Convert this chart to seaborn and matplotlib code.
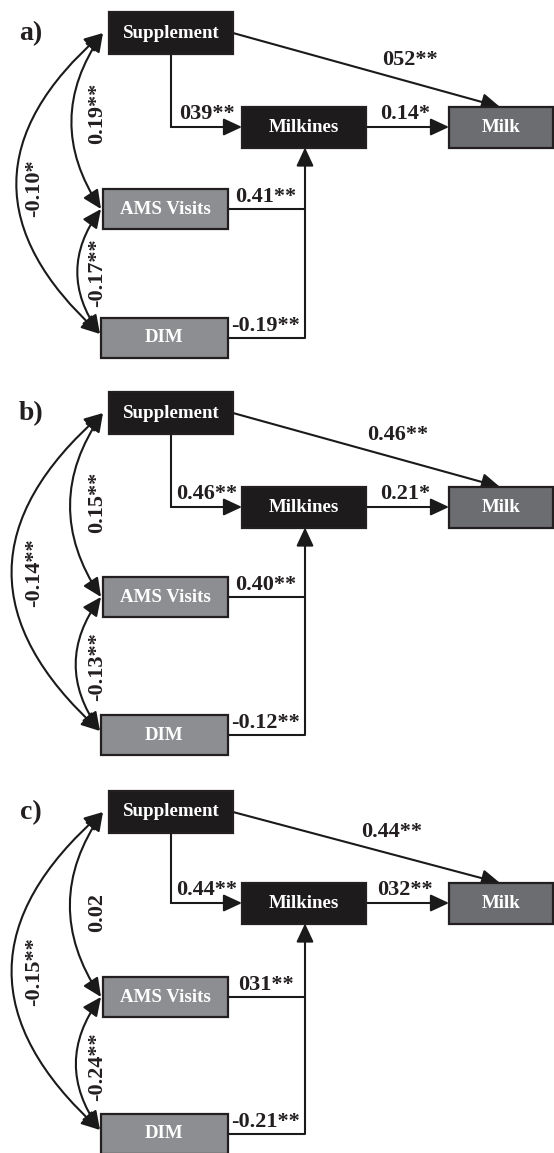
import matplotlib
matplotlib.use("Agg")
import matplotlib.pyplot as plt
from matplotlib.patches import Rectangle, FancyArrowPatch
import seaborn as sns
import pandas as pd

# ---------------- data ----------------
nodes = ["Supplement", "Milkines", "Milk", "AMS Visits", "DIM"]
panel_labels = ["a)", "b)", "c)"]
supp_milk = ["052**", "0.46**", "0.44**"]
supp_milkines = ["039**", "0.46**", "0.44**"]
milkines_milk = ["0.14*", "0.21*", "032**"]
ams_milkines = ["0.41**", "0.40**", "031**"]
dim_milkines = ["-0.19**", "-0.12**", "-0.21**"]
supp_ams = ["0.19**", "0.15**", "0.02"]
ams_dim = ["-0.17**", "-0.13**", "-0.24**"]
supp_dim = ["-0.10*", "-0.14**", "-0.15**"]

# ---------------- layout ----------------
# vertical centres of the rows in each panel (Supplement, Milkines/Milk, AMS, DIM)
rows = [(33, 127, 209, 338), (413, 507, 597, 735), (812, 903, 997, 1134)]
# label vertical positions for rotated covariances (inner upper, inner lower, outer)
rot_y = [(113, 273, 188), (502, 667, 573), (912, 1067, 972)]
top_lab_y = [60, 435, 832]
top_lab_x = [410, 398, 392]

BLACK = "#1d1b1c"
MILK_C = "#6c6d70"
GREY_C = "#8d8e91"
EDGE = "#231f20"
LINE = "#1a1a1a"
TXT = "#231f20"

sns.set_theme(style="white")
plt.rcParams["font.family"] = ["Liberation Serif", "DejaVu Serif"]

fig = plt.figure(figsize=(5.54, 11.53), dpi=100)
ax = fig.add_axes([0, 0, 1, 1])
ax.set_xlim(0, 554)
ax.set_ylim(1153, 0)
ax.axis("off")

LW = 1.5
AS = "-|>,head_length=0.75,head_width=0.35"
DAS = "<|-|>,head_length=0.75,head_width=0.35"
MS = 15


def box(x0, x1, yc, h, fc, text, fs=13.6):
    ax.add_patch(Rectangle((x0, yc - h / 2), x1 - x0, h, facecolor=fc,
                           edgecolor=EDGE, lw=1.6, zorder=3))
    ax.text((x0 + x1) / 2, yc, text, color="white", fontsize=fs,
            fontweight="bold", ha="center", va="center", zorder=4)


def arrow(p0, p1):
    ax.annotate("", xy=p1, xytext=p0,
                arrowprops=dict(arrowstyle=AS, lw=LW, color=LINE,
                                shrinkA=0, shrinkB=0, mutation_scale=MS),
                zorder=2)


def poly(xs, ys):
    df = pd.DataFrame({"x": xs, "y": ys})
    sns.lineplot(data=df, x="x", y="y", sort=False, estimator=None,
                 color=LINE, lw=LW, ax=ax, zorder=2)


def curve(p0, p1, rad):
    ax.add_patch(FancyArrowPatch(p0, p1, arrowstyle=DAS,
                                 connectionstyle=f"arc3,rad={rad}",
                                 lw=LW, color=LINE, shrinkA=0, shrinkB=0,
                                 mutation_scale=MS, zorder=2))


LFS = 16
for i in range(3):
    ys, ym, ya, yd = rows[i]
    # boxes
    box(109, 233, ys, 42, BLACK, nodes[0])
    box(242, 366, ym, 41, BLACK, nodes[1])
    box(449, 553, ym, 41, MILK_C, nodes[2])
    box(103, 228, ya, 40, GREY_C, nodes[3])
    box(101, 228, yd, 40, GREY_C, nodes[4])

    ax.text(31, ys + 1, panel_labels[i], fontsize=20, fontweight="bold",
            color=TXT, ha="center", va="center")

    # Supplement -> Milkines (elbow)
    poly([171, 171], [ys + 21, ym])
    arrow((171, ym), (242, ym))
    # Milkines -> Milk
    arrow((366, ym), (449, ym))
    # Supplement -> Milk
    arrow((233, ys), (500, ym - 20))
    # AMS / DIM -> Milkines
    poly([228, 305], [ya, ya])
    poly([228, 305, 305], [yd, yd, ym + 40])
    arrow((305, ym + 40), (305, ym + 20.5))

    # covariances
    curve((103, ys), (101, ya), 0.34)
    curve((101, ya), (100, yd - 4), 0.36)
    curve((103, ys), (100, yd - 4), 0.56)

    # labels
    kw = dict(fontsize=LFS, fontweight="bold", color=TXT, ha="center")
    ax.text(top_lab_x[i], top_lab_y[i], supp_milk[i], va="center", **kw)
    ax.text(207, ym - 3, supp_milkines[i], va="bottom", **kw)
    ax.text(405, ym - 3, milkines_milk[i], va="bottom", **kw)
    ax.text(266, ya - 2, ams_milkines[i], va="bottom", **kw)
    ax.text(265, yd - 2, dim_milkines[i], va="bottom", **kw)
    r1, r2, r3 = rot_y[i]
    ax.text(97, r1, supp_ams[i], va="center", rotation=90, **kw)
    ax.text(97, r2, ams_dim[i], va="center", rotation=90, **kw)
    ax.text(34, r3, supp_dim[i], va="center", rotation=90, **kw)

fig.savefig("out.png", dpi=100, facecolor="white")
